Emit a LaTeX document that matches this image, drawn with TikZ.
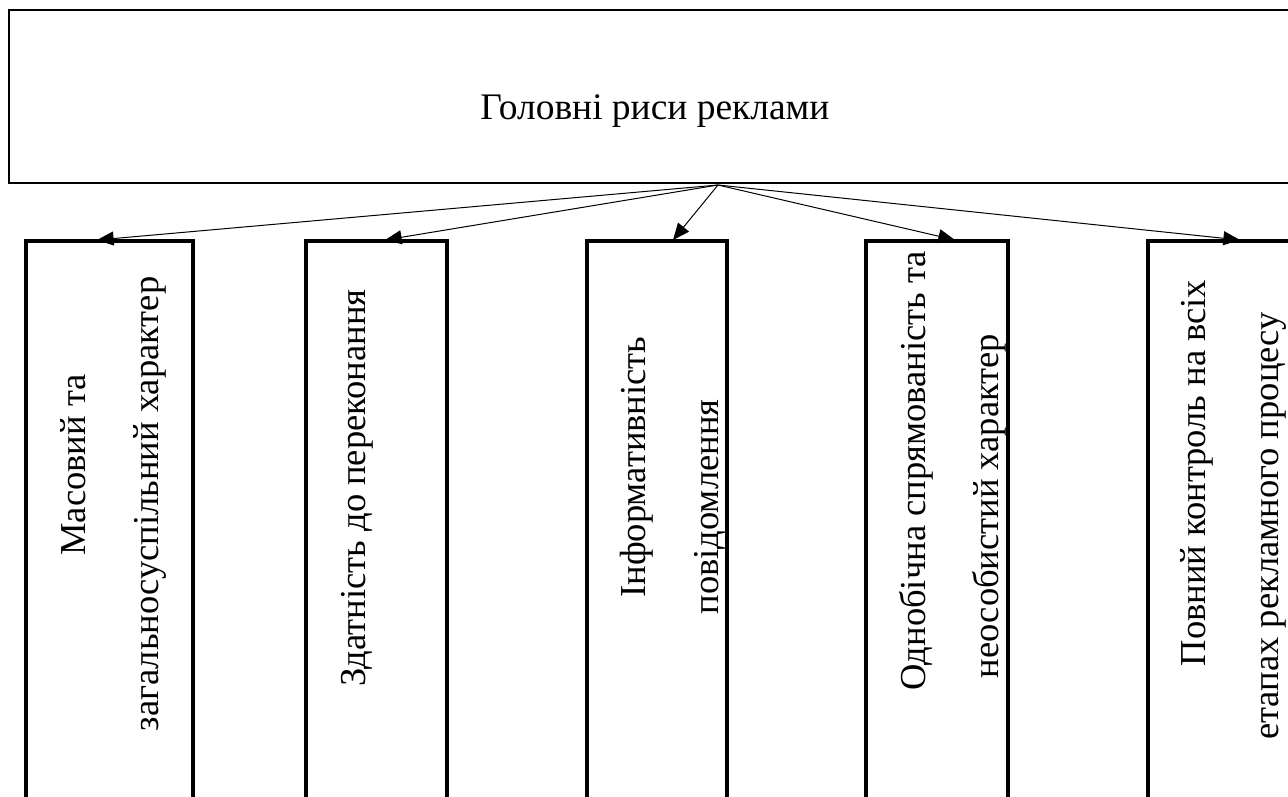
\documentclass[tikz,border=0pt]{standalone}
\usepackage{fontspec}
\setmainfont{Liberation Serif}
\usetikzlibrary{arrows.meta}
\begin{document}
\begin{tikzpicture}[x=0.75pt,y=-0.75pt,
  topbox/.style={draw, line width=1.5pt, inner sep=0, outer sep=0, anchor=north west, minimum height=129.75pt},
  itembox/.style={draw, line width=3pt, inner sep=0, outer sep=0, anchor=north west, minimum height=434pt},
  vtext/.style={rotate=90, anchor=base, inner sep=0, font=\fontsize{27.4pt}{30pt}\selectfont},
  ttext/.style={anchor=base, inner sep=0, font=\fontsize{28.1pt}{30pt}\selectfont},
  arr/.style={line width=0.75pt, -{Triangle[length=12.5pt,width=10.5pt]}}]
\useasboundingbox (0,0) rectangle (1288,796);
\clip (0,0) rectangle (1288,796);
\fill[white] (0,0) rectangle (1288,796);
% top box
\node[topbox, minimum width=1066pt] (top) at (9,10) {};
\node[ttext] (title) at (655,119) {Головні риси реклами};
% item boxes
\node[itembox, minimum width=125.25pt] (b1) at (26,241) {};
\node[itembox, minimum width=105.75pt] (b2) at (306,241) {};
\node[itembox, minimum width=105pt] (b3) at (587,241) {};
\node[itembox, minimum width=106.5pt] (b4) at (866,241) {};
\node[itembox, minimum width=106.5pt] (b5) at (1148,241) {};
% texts
\node[vtext] (l1a) at (85,465) {Масовий та};
\node[vtext] (l1b) at (158,504) {загальносуспільний характер};
\node[vtext] (l2a) at (365,488) {Здатність до переконання};
\node[vtext] (l3a) at (645,467) {Інформативність};
\node[vtext] (l3b) at (718,507) {повідомлення};
\node[vtext] (l4a) at (925,471) {Однобічна спрямованість та};
\node[vtext] (l4b) at (998,506) {неособистий характер};
\node[vtext] (l5a) at (1205,473) {Повний контроль на всіх};
\node[vtext] (l5b) at (1278,526) {етапах рекламного процесу};
% connectors
\coordinate (hub) at (718,185);
\coordinate (t1) at (97,240);
\coordinate (t2) at (385,240);
\coordinate (t3) at (673,240);
\coordinate (t4) at (955,240);
\coordinate (t5) at (1240,240);
\draw[arr] (hub) -- (t1);
\draw[arr] (hub) -- (t2);
\draw[arr] (hub) -- (t3);
\draw[arr] (hub) -- (t4);
\draw[arr] (hub) -- (t5);
\end{tikzpicture}
\end{document}
